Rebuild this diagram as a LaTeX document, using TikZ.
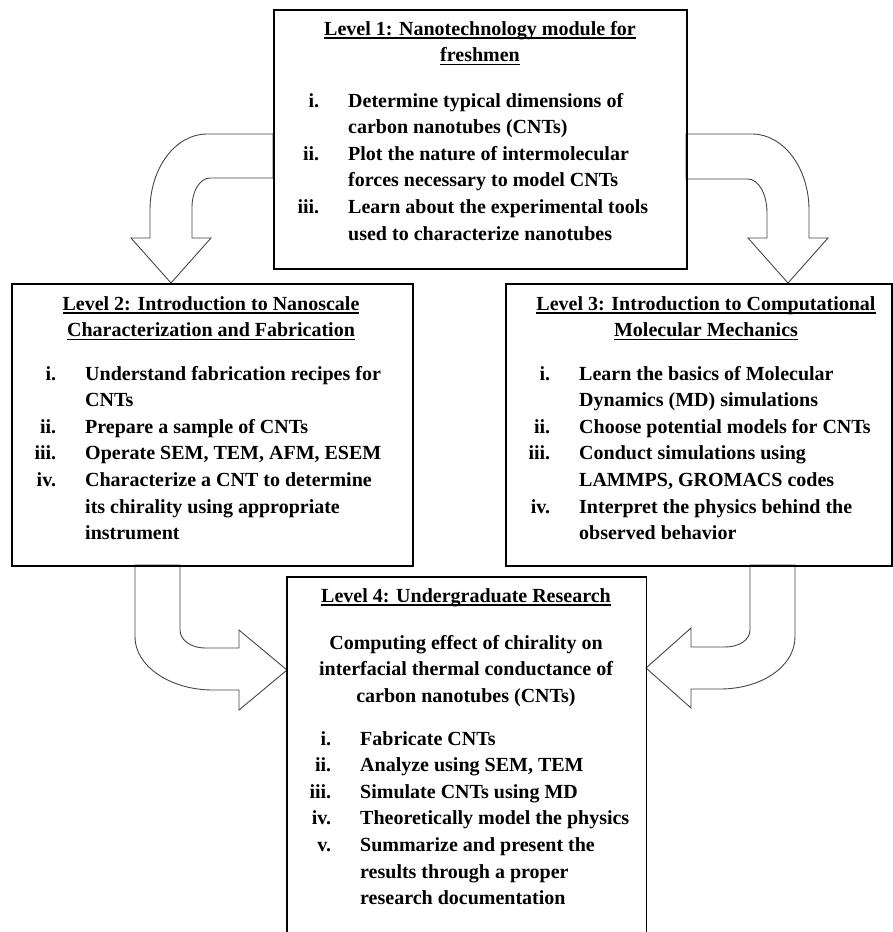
\documentclass[tikz,border=0pt]{standalone}
\usepackage{fontspec}
\setmainfont{Liberation Serif}
\newcommand\itm[1]{\llap{#1\hspace{29pt}}}
\newcommand\ulin[1]{\setbox0\hbox{#1}\rlap{\rule[-3.4pt]{\wd0}{1.3pt}}\box0}
\begin{document}
\begin{tikzpicture}[x=1pt,y=-1pt,
  box/.style={draw, line width=1.6pt, inner sep=0pt, anchor=north west},
  txt/.style={inner sep=0pt, font=\bfseries\fontsize{20}{26.6}\selectfont},
  ttl/.style={txt, align=center, anchor=north},
  lst/.style={txt, align=left, anchor=north west},
  blk/.style={draw=gray!55!black, line width=0.9pt, fill=white, line join=miter}]
\useasboundingbox[fill=white] (0,0) rectangle (893,932);

% block arrows
\draw[blk] (273,134) -- (207,134) .. controls (175.5,134) and (150,168) .. (150,210)
  -- (150,238) -- (131,238) -- (171,283) -- (211,238) -- (192,238) -- (192,207)
  .. controls (192,191) and (200,178) .. (210,178) -- (273,178) -- cycle;
\draw[blk] (686,134) -- (752,134) .. controls (783.5,134) and (809,168) .. (809,210)
  -- (809,238) -- (828,238) -- (788,283) -- (748,238) -- (767,238) -- (767,213)
  .. controls (767,194) and (758.5,179) .. (748,179) -- (686,179) -- cycle;
\draw[blk] (135,565) -- (135,637) .. controls (135,666) and (170,690) .. (213,690)
  -- (239,690) -- (239,710) -- (287,670) -- (239,630) -- (239,648) -- (205,648)
  .. controls (191,648) and (180,640) .. (180,630) -- (180,565) -- cycle;
\draw[blk] (795,565) -- (795,637) .. controls (795,666) and (762,689) .. (720,689)
  -- (691,689) -- (691,708) -- (646,668) -- (691,628) -- (691,647) -- (725,647)
  .. controls (739,647) and (750,640) .. (750,630) -- (750,565) -- cycle;

% boxes
\node[box, minimum width=413pt, minimum height=259pt] (b1) at (273,9) {};
\node[box, minimum width=401pt, minimum height=282pt] (b2) at (11,283) {};
\node[box, minimum width=386pt, minimum height=282pt] (b3) at (505,283) {};
\node[inner sep=0pt, anchor=north west, minimum width=359pt, minimum height=357pt] (b4) at (287,577) {};
\draw[line width=1.6pt] (b4.south west) -- (b4.north west) -- (b4.north east) -- (b4.south east);

% box 1
\node[ttl] (t1) at (480,16.3) {\strut\ulin{Level 1: Nanotechnology module for}\\\ulin{freshmen}};
\node[lst] (l1) at (348,88.3) {\strut\itm{i.}Determine typical dimensions of\\carbon nanotubes (CNTs)\\\itm{ii.}Plot the nature of intermolecular\\forces necessary to model CNTs\\\itm{iii.}Learn about the experimental tools\\used to characterize nanotubes};

% box 2
\node[ttl] (t2) at (211,291.3) {\strut\ulin{Level 2: Introduction to Nanoscale}\\\ulin{Characterization and Fabrication}};
\node[lst] (l2) at (85,361.3) {\strut\itm{i.}Understand fabrication recipes for\\CNTs\\\itm{ii.}Prepare a sample of CNTs\\\itm{iii.}Operate SEM, TEM, AFM, ESEM\\\itm{iv.}Characterize a CNT to determine\\its chirality using appropriate\\instrument};

% box 3
\node[ttl] (t3) at (706,291.3) {\strut\ulin{Level 3: Introduction to Computational}\\\ulin{Molecular Mechanics}};
\node[lst] (l3) at (579,361.3) {\strut\itm{i.}Learn the basics of Molecular\\Dynamics (MD) simulations\\\itm{ii.}Choose potential models for CNTs\\\itm{iii.}Conduct simulations using\\LAMMPS, GROMACS codes\\\itm{iv.}Interpret the physics behind the\\observed behavior};

% box 4
\node[ttl] (t4) at (466,583.3) {\strut\ulin{Level 4: Undergraduate Research}};
\node[ttl] (s4) at (466,630.3) {\strut Computing effect of chirality on\\interfacial thermal conductance of\\carbon nanotubes (CNTs)};
\node[lst] (l4) at (360,726.3) {\strut\itm{i.}Fabricate CNTs\\\itm{ii.}Analyze using SEM, TEM\\\itm{iii.}Simulate CNTs using MD\\\itm{iv.}Theoretically model the physics\\\itm{v.}Summarize and present the\\results through a proper\\research documentation};
\end{tikzpicture}
\end{document}
